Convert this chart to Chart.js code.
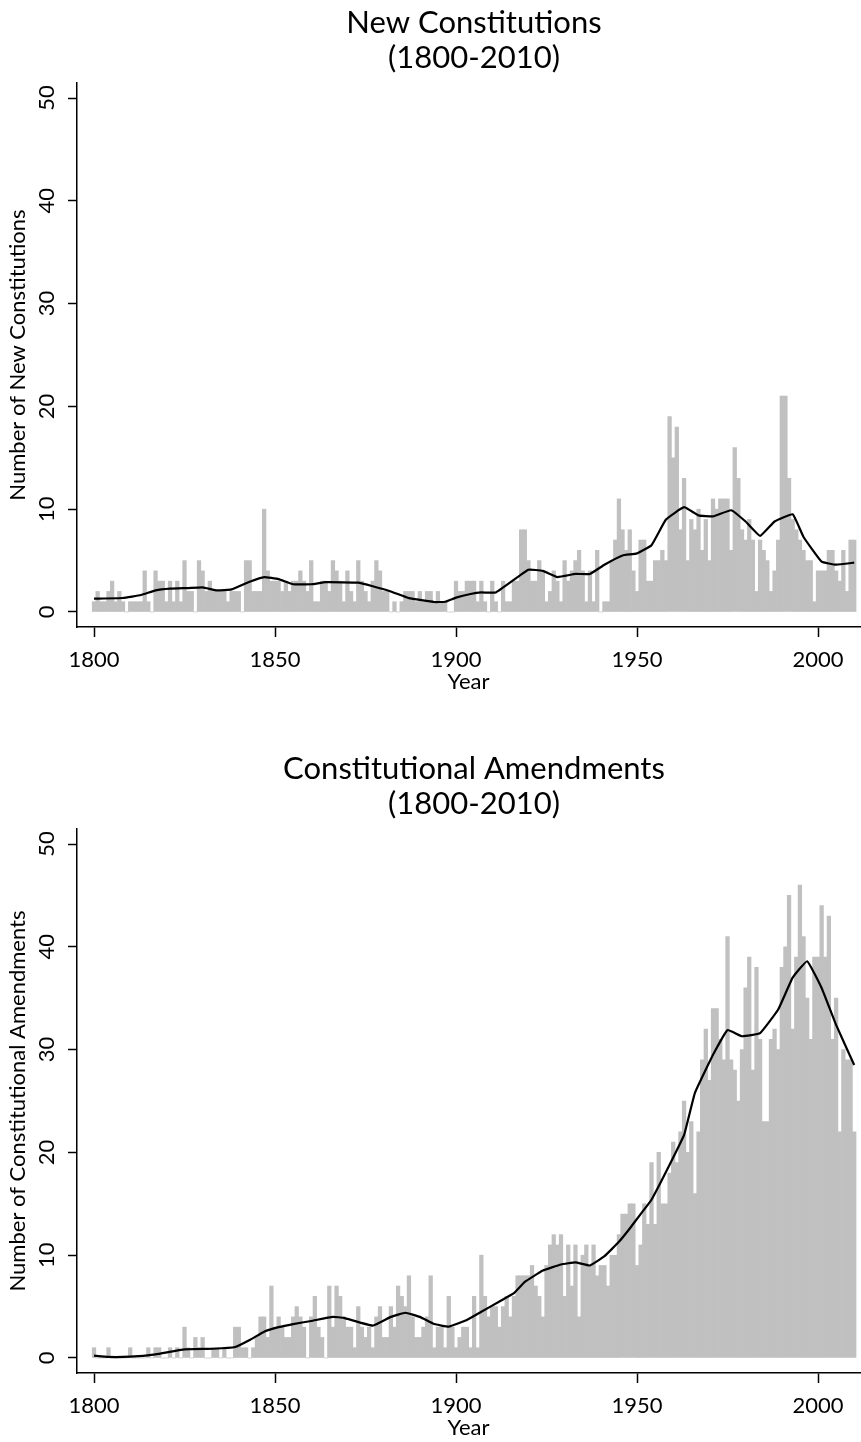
<!DOCTYPE html>
<html>
<head>
<meta charset="utf-8">
<title>Constitutions 1800-2010</title>
<script src="https://cdn.jsdelivr.net/npm/chart.js@4"></script>
<style>
  html, body { margin: 0; padding: 0; background: #fff; }
  canvas { display: block; }
</style>
</head>
<body>
<canvas id="chartConst" width="861" height="746"></canvas>
<canvas id="chartAmend" width="861" height="696"></canvas>
<script>
// yearly counts, 1800 .. 2010 (one value per year)
const FIRST_YEAR = 1800;

const newConstitutions = [
  1,2,1,1,2,3,1,2,1,0,   // 1800s
  1,1,1,1,4,1,0,4,3,3,   // 1810s
  1,3,1,3,1,5,2,2,0,5,   // 1820s
  4,2,3,2,2,2,2,1,2,2,   // 1830s
  2,0,5,5,2,2,2,10,4,3,  // 1840s
  3,3,2,3,2,3,3,4,3,2,   // 1850s
  5,1,1,3,3,2,5,4,3,1,   // 1860s
  4,2,1,5,3,2,1,3,5,4,   // 1870s
  2,2,0,1,0,1,2,2,2,1,   // 1880s
  2,1,2,2,1,2,1,1,0,0,   // 1890s
  3,2,2,3,3,3,1,3,1,0,   // 1900s
  3,1,0,3,1,1,3,3,8,8,   // 1910s
  5,3,3,5,4,1,2,4,3,1,   // 1920s
  5,3,4,5,6,4,1,4,1,6,   // 1930s
  0,1,1,5,7,11,8,6,8,4,  // 1940s
  2,7,7,3,3,5,5,6,5,19,  // 1950s
  15,18,8,13,5,9,8,10,6,9,   // 1960s
  5,11,10,11,11,11,6,16,13,8, // 1970s
  7,9,7,2,7,6,5,2,4,7,   // 1980s
  21,21,13,9,8,7,6,5,5,1, // 1990s
  4,4,4,6,6,4,3,6,2,7,7  // 2000-2010
];

const amendments = [
  1,0,0,0,1,0,0,0,0,0,
  1,0,0,0,0,1,0,1,1,0,
  0,1,0,1,0,3,1,0,2,1,
  2,0,0,1,1,0,1,0,0,3,
  3,1,1,0,1,2,4,4,2,7,
  3,4,3,2,2,4,5,4,3,0,
  4,6,3,2,0,7,3,7,6,4,
  3,3,1,5,3,2,3,1,4,5,
  2,2,5,3,7,6,5,8,4,2,
  2,3,4,8,1,3,3,1,6,3,
  1,2,3,3,1,6,1,10,6,4,
  5,5,3,5,6,4,6,8,8,8,
  8,9,7,6,4,9,11,12,11,12,
  6,11,7,11,4,10,11,9,11,8,
  9,9,7,10,10,12,14,14,15,15,
  9,11,15,13,19,13,20,15,15,18,
  21,19,22,25,20,23,16,22,29,32,
  27,34,34,31,29,41,29,28,25,30,
  36,39,28,38,31,23,23,31,32,30,
  38,40,45,32,39,46,41,35,31,39,
  39,44,39,43,31,35,22,30,29,29,22
];

// smoothed trend lines
const trendYearsConst = [1800,1808,1813,1817,1821,1826,1830,1834,1838,1843,1847,1851,1855,1860,1864,1873,1877,1882,1887,1894,1897,1900,1904,1907,1911,1920,1924,1928,1933,1937,1941,1946,1950,1954,1958,1963,1967,1971,1976,1980,1984,1988,1993,1996,2001,2005,2010];
const trendConst      = [1.3,1.36,1.65,2.1,2.27,2.33,2.4,2.1,2.2,2.95,3.4,3.2,2.7,2.7,2.9,2.85,2.5,2.0,1.35,0.97,1.0,1.4,1.75,1.9,1.9,4.1,4.0,3.4,3.7,3.7,4.6,5.5,5.7,6.5,9.0,10.2,9.4,9.3,9.9,8.8,7.4,8.8,9.5,7.3,4.9,4.6,4.8];

const trendYearsAmend = [1800,1804,1810,1817,1825,1833,1839,1843,1847,1851,1855,1860,1866,1869,1877,1882,1886,1890,1894,1898,1903,1907,1912,1916,1919,1924,1929,1933,1937,1941,1945,1948,1951,1954,1959,1963,1966,1971,1975,1979,1984,1989,1993,1997,2001,2005,2010];
const trendAmend      = [0.23,0.1,0.13,0.36,0.84,0.9,1.07,1.75,2.56,3.0,3.3,3.6,4.0,3.9,3.15,4.0,4.4,4.0,3.3,3.05,3.7,4.5,5.5,6.3,7.4,8.5,9.1,9.3,9.0,9.9,11.3,12.6,14.0,15.4,18.8,21.7,25.8,29.5,31.9,31.3,31.6,33.9,37.0,38.6,36.0,32.4,28.5];

const xTicks = [1800, 1850, 1900, 1950, 2000];
const yTicks = [0, 10, 20, 30, 40, 50];

const FONT = "Lato, 'Open Sans', sans-serif";

// title centred over the plot region, like the Stata graph
const stataTitle = {
  id: 'stataTitle',
  afterDraw(chart, args, opts) {
    const ctx = chart.ctx;
    ctx.save();
    ctx.fillStyle = '#000';
    ctx.font = `${opts.size}px ${FONT}`;
    ctx.textAlign = 'center';
    ctx.textBaseline = 'middle';
    opts.lines.forEach((t, i) => ctx.fillText(t, opts.x, opts.y[i]));
    ctx.restore();
  }
};

function makeChart(id, values, tYears, tVals, titleLines, yTitle, h) {
  const bars = values.map((v, i) => ({ x: FIRST_YEAR + i, y: v }));
  const trend = tYears.map((yr, i) => ({ x: yr, y: tVals[i] }));
  const xTitleSize = 22;
  const yTitleSize = 22;

  return new Chart(document.getElementById(id), {
    type: 'bar',
    data: {
      datasets: [
        {
          type: 'line',
          data: trend,
          borderColor: '#000',
          borderWidth: 2.2,
          pointRadius: 0,
          tension: 0.1,
          order: 0
        },
        {
          type: 'bar',
          data: bars,
          backgroundColor: '#c0c0c0',
          borderWidth: 0,
          barPercentage: 1,
          categoryPercentage: 1,
          order: 1
        }
      ]
    },
    options: {
      responsive: false,
      animation: false,
      layout: { padding: { top: 83, left: 0, right: 1, bottom: 0 } },
      plugins: {
        legend: { display: false },
        tooltip: { enabled: false },
        stataTitle: { lines: titleLines, size: 31, x: 474, y: [23, 58] }
      },
      scales: {
        x: {
          type: 'linear',
          offset: false,
          min: 1795.3,
          max: 2011.6,
          afterBuildTicks: s => { s.ticks = xTicks.map(v => ({ value: v })); },
          afterFit: s => { s.height = h - 627; },
          grid: { offset: false, drawOnChartArea: false, tickLength: 10, tickColor: '#000', tickWidth: 1.5 },
          border: { color: '#000', width: 1.5 },
          ticks: {
            color: '#000', font: { family: FONT, size: 22 }, maxRotation: 0, padding: 10,
            callback: v => String(v)
          },
          title: {
            display: true, text: 'Year', color: '#000',
            font: { family: FONT, size: xTitleSize },
            padding: { top: 0, bottom: h - 682 - xTitleSize * 0.6 }
          }
        },
        y: {
          min: -1.46,
          max: 51.46,
          afterBuildTicks: s => { s.ticks = yTicks.map(v => ({ value: v })); },
          afterFit: s => { s.width = 77; },
          grid: { drawOnChartArea: false, tickLength: 9, tickColor: '#000', tickWidth: 1.5 },
          border: { color: '#000', width: 1.5 },
          ticks: { color: '#000', font: { family: FONT, size: 22 }, minRotation: 90, maxRotation: 90, crossAlign: 'center', padding: 8 },
          title: {
            display: true, text: yTitle, color: '#000',
            font: { family: FONT, size: yTitleSize },
            padding: { top: 18 - yTitleSize * 0.6, bottom: 0 }
          }
        }
      }
    },
    plugins: [stataTitle]
  });
}

makeChart('chartConst', newConstitutions, trendYearsConst, trendConst,
  ['New Constitutions', '(1800-2010)'], 'Number of New Constitutions', 746);
makeChart('chartAmend', amendments, trendYearsAmend, trendAmend,
  ['Constitutional Amendments', '(1800-2010)'], 'Number of Constitutional Amendments', 696);
</script>
</body>
</html>
